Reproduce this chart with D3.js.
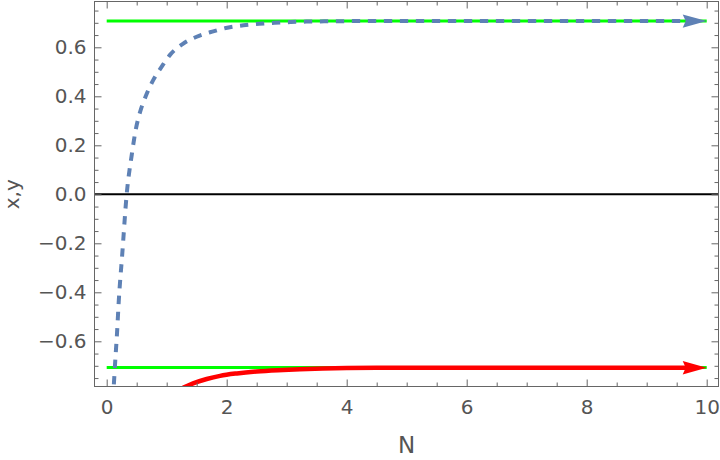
<!DOCTYPE html>
<html><head><meta charset="utf-8">
<script src="https://cdn.jsdelivr.net/npm/d3@7"></script>
<style>
html,body{margin:0;padding:0;background:#fff;}
svg{display:block;font-family:"DejaVu Sans",sans-serif;}
</style></head>
<body>
<svg id="chart" width="720" height="460"></svg>
<script>
// ---- data ----
const blueN = [0.10, 0.122, 0.138, 0.172, 0.20, 0.26, 0.333, 0.417, 0.483, 0.555, 0.65, 0.777, 0.917, 1.055, 1.27, 1.50, 1.76, 2.01, 2.28, 2.54, 2.80, 3.07, 3.33, 3.70, 4.20, 5.0, 6.0, 7.0, 8.0, 9.0, 10.0];
const blueV = [-0.84, -0.765, -0.697, -0.567, -0.440, -0.241, 0.000, 0.160, 0.262, 0.335, 0.400, 0.467, 0.521, 0.569, 0.614, 0.643, 0.664, 0.680, 0.690, 0.696, 0.700, 0.703, 0.705, 0.706, 0.707, 0.707, 0.707, 0.707, 0.707, 0.707, 0.707];
const redN = [1.20, 1.30, 1.44, 1.667, 1.89, 2.17, 2.50, 2.94, 3.22, 3.60, 4.00, 4.50, 5.0, 6.0, 7.0, 8.0, 9.0, 10.0];
const redV = [-0.80, -0.787, -0.772, -0.754, -0.741, -0.731, -0.723, -0.717, -0.714, -0.711, -0.709, -0.708, -0.708, -0.708, -0.708, -0.708, -0.708, -0.708];
const greenN = [0, 10];
const greenUpper = [0.7071, 0.7071];
const greenLower = [-0.7071, -0.7071];
const xMajorTicks = [0, 2, 4, 6, 8, 10];
const yMajorTicks = [-0.6, -0.4, -0.2, 0.0, 0.2, 0.4, 0.6];
const xLabel = "N";
const yLabel = "x,y";

// ---- layout ----
const frame = {left: 94.5, right: 718.5, top: 1.5, bottom: 386.5};
const svg = d3.select("#chart");
const x = d3.scaleLinear().domain([0, 10]).range([106.7, 706.7]);
const y = d3.scaleLinear().domain([-0.6, 0.6]).range([341.3, 47.3]);
const gray = "#666";
const labelColor = "#555";

const xMinor = d3.range(-0.0, 10.01, 0.5).filter(v => !xMajorTicks.some(t => Math.abs(t - v) < 1e-6));
const yMinor = d3.range(-0.75, 0.751, 0.05).map(v => Math.round(v * 100) / 100).filter(v => !yMajorTicks.some(t => Math.abs(t - v) < 1e-6));

// clip
const defs = svg.append("defs");
defs.append("clipPath").attr("id", "clip").append("rect")
  .attr("x", frame.left).attr("y", frame.top)
  .attr("width", frame.right - frame.left).attr("height", frame.bottom - frame.top);
defs.append("clipPath").attr("id", "clipLine").append("rect")
  .attr("x", frame.left).attr("y", frame.top)
  .attr("width", x(10) - 18 - frame.left).attr("height", frame.bottom - frame.top);

const plot = svg.append("g").attr("clip-path", "url(#clip)");
const line = d3.line().x(d => x(d[0])).y(d => y(d[1]));
const curve = d3.line().x(d => x(d[0])).y(d => y(d[1])).curve(d3.curveMonotoneX);

// green reference lines
[greenUpper, greenLower].forEach(arr => {
  plot.append("path").datum(greenN.map((n, i) => [n, arr[i]]))
    .attr("d", line).attr("fill", "none").attr("stroke", "#00ff00").attr("stroke-width", 3);
});
// zero line
plot.append("line").attr("x1", frame.left).attr("x2", frame.right)
  .attr("y1", y(0)).attr("y2", y(0)).attr("stroke", "#000").attr("stroke-width", 2);

// blue dashed
const lines = svg.append("g").attr("clip-path", "url(#clipLine)");
lines.append("path").datum(blueN.map((n, i) => [n, blueV[i]]))
  .attr("d", curve).attr("fill", "none").attr("stroke", "#5e81b5")
  .attr("stroke-width", 4).attr("stroke-dasharray", "8.3,7.7");
// red
lines.append("path").datum(redN.map((n, i) => [n, redV[i]]))
  .attr("d", curve).attr("fill", "none").attr("stroke", "#ff0000")
  .attr("stroke-width", 4.5);

// arrowheads
function arrow(n, v, color) {
  const tx = x(n), ty = y(v);
  svg.append("path")
    .attr("d", `M${tx},${ty} L${tx - 24},${ty - 6.7} L${tx - 21},${ty} L${tx - 24},${ty + 6.7} Z`)
    .attr("fill", color);
}
arrow(blueN[blueN.length - 1], blueV[blueV.length - 1], "#5e81b5");
arrow(redN[redN.length - 1], redV[redV.length - 1], "#ff0000");

// frame
svg.append("rect").attr("x", frame.left).attr("y", frame.top)
  .attr("width", frame.right - frame.left).attr("height", frame.bottom - frame.top)
  .attr("fill", "none").attr("stroke", gray).attr("stroke-width", 1);

function styleAxis(g) {
  g.select(".domain").remove();
  g.selectAll(".tick line").attr("stroke", gray);
  g.selectAll(".tick text").attr("fill", labelColor).attr("font-size", 20)
    .attr("font-family", "'DejaVu Sans', sans-serif");
}
const fmtY = d3.format(".1f");
// bottom
svg.append("g").attr("transform", `translate(0,${frame.bottom})`)
  .call(d3.axisBottom(x).tickValues(xMajorTicks).tickFormat(d3.format("d")).tickSizeInner(-7).tickSizeOuter(0).tickPadding(13))
  .call(styleAxis);
svg.append("g").attr("transform", `translate(0,${frame.bottom})`)
  .call(d3.axisBottom(x).tickValues(xMinor).tickFormat("").tickSizeInner(-4).tickSizeOuter(0))
  .call(styleAxis);
// top
svg.append("g").attr("transform", `translate(0,${frame.top})`)
  .call(d3.axisTop(x).tickValues(xMajorTicks).tickFormat("").tickSizeInner(-7).tickSizeOuter(0))
  .call(styleAxis);
svg.append("g").attr("transform", `translate(0,${frame.top})`)
  .call(d3.axisTop(x).tickValues(xMinor).tickFormat("").tickSizeInner(-4).tickSizeOuter(0))
  .call(styleAxis);
// left
svg.append("g").attr("transform", `translate(${frame.left},0)`)
  .call(d3.axisLeft(y).tickValues(yMajorTicks).tickFormat(fmtY).tickSizeInner(-7).tickSizeOuter(0).tickPadding(8))
  .call(styleAxis);
svg.append("g").attr("transform", `translate(${frame.left},0)`)
  .call(d3.axisLeft(y).tickValues(yMinor).tickFormat("").tickSizeInner(-4).tickSizeOuter(0))
  .call(styleAxis);
// right
svg.append("g").attr("transform", `translate(${frame.right},0)`)
  .call(d3.axisRight(y).tickValues(yMajorTicks).tickFormat("").tickSizeInner(-7).tickSizeOuter(0))
  .call(styleAxis);
svg.append("g").attr("transform", `translate(${frame.right},0)`)
  .call(d3.axisRight(y).tickValues(yMinor).tickFormat("").tickSizeInner(-4).tickSizeOuter(0))
  .call(styleAxis);

// axis labels
svg.append("text").attr("x", x(5)).attr("y", 453).attr("text-anchor", "middle")
  .attr("font-size", 23).attr("fill", labelColor).text(xLabel);
svg.append("text").attr("transform", `translate(19,${y(0)}) rotate(-90)`)
  .attr("text-anchor", "middle").attr("font-size", 20).attr("fill", labelColor).text(yLabel);
</script>
</body></html>
